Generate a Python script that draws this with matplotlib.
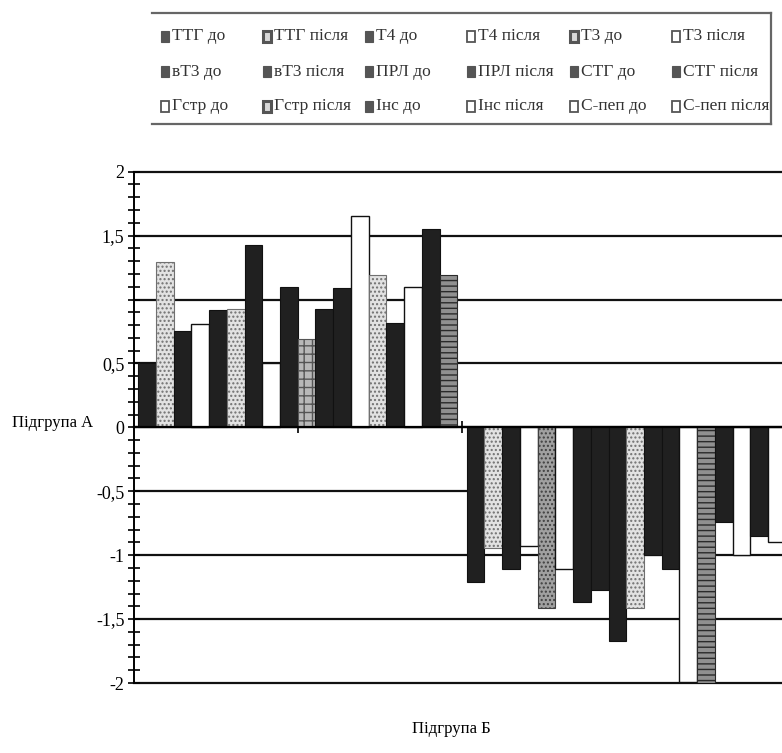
import matplotlib
matplotlib.use('Agg')
import matplotlib.pyplot as plt
from matplotlib.patches import Rectangle
from matplotlib.lines import Line2D
import numpy as np

# series in legend order (row by row)
series = ["ТТГ до", "ТТГ після", "Т4 до", "Т4 після", "Т3 до", "Т3 після",
          "вТ3 до", "вТ3 після", "ПРЛ до", "ПРЛ після", "СТГ до", "СТГ після",
          "Гстр до", "Гстр після", "Інс до", "Інс після", "С-пеп до", "С-пеп після"]
groups = ["Підгрупа А", "Підгрупа Б"]

group_a = [0.50, 1.29, 0.755, 0.81, 0.92, 0.925, 1.43, 0.50, 1.10,
           0.69, 0.925, 1.09, 1.65, 1.19, 0.82, 1.10, 1.555, 1.19]
group_b = [-1.21, -0.945, -1.11, -0.93, -1.41, -1.11, -1.37, -1.275, -1.67,
           -1.41, -1.00, -1.11, -1.99, -2.00, -0.74, -1.00, -0.85, -0.90]

yticks = [-2, -1.5, -1, -0.5, 0, 0.5, 1, 1.5, 2]
ytick_labels = ["-2", "-1,5", "-1", "-0,5", "0", "0,5", "", "1,5", "2"]

# fill look of every bar as it appears in the scan
bar_styles = {
    'd': dict(color='#202020', edgecolor='#111111', linewidth=0.8),
    'w': dict(color='white', edgecolor='#111111', linewidth=1.0),
    'l': dict(color='#e2e2e2', edgecolor='#707070', hatch='....', linewidth=0.8),
    'g': dict(color='#b8b8b8', edgecolor='#555555', hatch='++', linewidth=0.8),
    'm': dict(color='#a0a0a0', edgecolor='#404040', hatch='....', linewidth=0.8),
    'n': dict(color='#909090', edgecolor='#2a2a2a', hatch='---', linewidth=0.8),
}
styles = ["dldwdldwdgddwldwdn", "dldwmwdddlddwndwdw"]
legend_styles = "dbdwbwddddddwbdwww"

W, H = 782, 753
plt.rcParams['font.family'] = ['Liberation Serif', 'DejaVu Serif']
fig = plt.figure(figsize=(W / 100, H / 100), dpi=100)

def fx(x):
    return x / W

def fy(y):
    return 1 - y / H

ax = fig.add_axes([fx(133.5), fy(683), 657 / W, (683 - 171.7) / H])

n = len(series)
pad = 0.014
w = (1 - 2 * pad) / n
for i, vals in enumerate([group_a, group_b]):
    x = i + pad + np.arange(n) * w
    for xj, v, s in zip(x, vals, styles[i]):
        ax.bar(xj, v, width=w, align='edge', zorder=2, **bar_styles[s])

ax.set_xlim(0, 2)
ax.set_ylim(-2, 2)
ax.set_yticks(yticks)
ax.set_yticklabels(ytick_labels, fontsize=13)
ax.set_yticks(np.arange(-20, 21) / 10, minor=True)
ax.tick_params(axis='y', which='both', direction='inout', length=9, width=1.2, pad=2)
ax.set_xticks([0.5, 1.0])
ax.set_xticklabels([])
ax.tick_params(axis='x', direction='inout', length=9, width=1.2)

ax.yaxis.grid(True, color='#111111', linewidth=1.6)
ax.set_axisbelow(True)
for g in ax.get_ygridlines():
    g.set_clip_on(False)

ax.spines['top'].set_visible(False)
ax.spines['right'].set_visible(False)
ax.spines['bottom'].set_position(('data', 0))
ax.spines['bottom'].set_linewidth(1.6)
ax.spines['left'].set_linewidth(1.4)
ax.spines['bottom'].set_zorder(3)

fig.text(fx(12), fy(423), groups[0], fontsize=12, va='center', ha='left')
fig.text(fx(451), fy(729), groups[1], fontsize=12, va='center', ha='center')

# legend box, laid out in a fixed 6-column grid
lc = '#555555'
x0, dx, y0, dy = 160.5, 102.3, 36.5, 35
for k, name in enumerate(series):
    r, c = divmod(k, 6)
    x = x0 + c * dx
    y = y0 + r * dy
    s = legend_styles[k]
    if s == 'd':
        fc, lw = lc, 0.8
    elif s == 'b':
        fc, lw = '#d8d8d8', 2.2
    else:
        fc, lw = 'white', 1.3
    fig.add_artist(Rectangle((fx(x), fy(y + 5.5)), 8 / W, 11 / H, transform=fig.transFigure,
                             facecolor=fc, edgecolor=lc, linewidth=lw))
    fig.text(fx(x + 11), fy(y), name, fontsize=12.5, color='#333333', va='center', ha='left')

for xs, ys in [([152, 771], [12.5, 12.5]), ([152, 771], [124, 124]), ([771, 771], [12.5, 124])]:
    fig.add_artist(Line2D([fx(v) for v in xs], [fy(v) for v in ys], transform=fig.transFigure,
                          color='#666666', linewidth=1.6))

fig.savefig('out.png', dpi=100)
